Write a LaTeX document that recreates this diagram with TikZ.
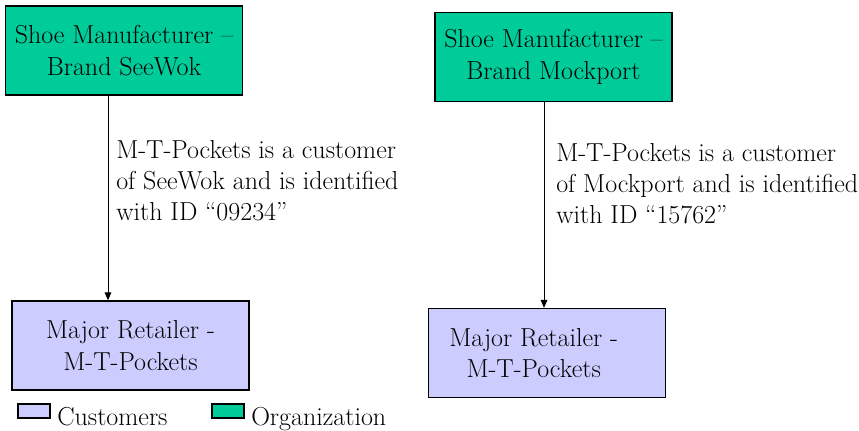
\documentclass[tikz,border=0pt]{standalone}
\usepackage{fontspec}
\usepackage{tikz}
\usetikzlibrary{arrows.meta,positioning}

\definecolor{orggreen}{RGB}{0,204,153}
\definecolor{custblue}{RGB}{204,204,255}

\begin{document}
\begin{tikzpicture}[
      x=0.75pt,y=-0.75pt,
      font=\fontsize{19.5}{23.5}\selectfont,
      orgbox/.style={rectangle,draw,line width=1pt,fill=orggreen,minimum width=177.75pt,minimum height=66.75pt,align=center},
      custbox/.style={rectangle,draw,line width=1pt,fill=custblue,minimum width=177.75pt,minimum height=66.75pt,align=center},
      keybox/.style={rectangle,draw,line width=0.9pt,minimum width=24pt,minimum height=10.5pt,inner sep=0pt},
      note/.style={align=left,anchor=north west,inner sep=0pt},
      >={Triangle[length=6pt,width=5pt]}
    ]
    \useasboundingbox (0,0) rectangle (859,431);

    % manufacturers
    \node[orgbox] (org1) at (124,50.5) {Shoe Manufacturer --\\Brand SeeWok};
    \node[orgbox] (org2) at (553.5,57) {Shoe Manufacturer --\\Brand Mockport};

    % retailers
    \node[custbox] (cust1) at (130.5,345.5) {Major Retailer -\\M-T-Pockets};
    \node[custbox] (cust2) at (547,353) {\hspace*{-20pt}Major Retailer -\\\hspace*{-20pt}M-T-Pockets};

    % links
    \coordinate (a1) at (108,0);
    \coordinate (a2) at (544,0);
    \draw[->,line width=0.75pt] (org1.south -| a1) -- (cust1.north -| a1);
    \draw[->,line width=0.75pt] (org2.south -| a2) -- (cust2.north -| a2);

    \node[note] (n1) at (116,140) {M-T-Pockets is a customer\\of SeeWok and is identified\\with ID ``09234''};
    \node[note] (n2) at (556,143) {M-T-Pockets is a customer\\of Mockport and is identified\\with ID ``15762''};

    % legend
    \node[keybox,fill=custblue] (keyC) at (34,411) {};
    \node[anchor=base west,inner sep=0pt] (labC) at (57,425) {Customers};
    \node[keybox,fill=orggreen] (keyO) at (228,411) {};
    \node[anchor=base west,inner sep=0pt] (labO) at (251,425) {Organization};
  \end{tikzpicture}
\end{document}
